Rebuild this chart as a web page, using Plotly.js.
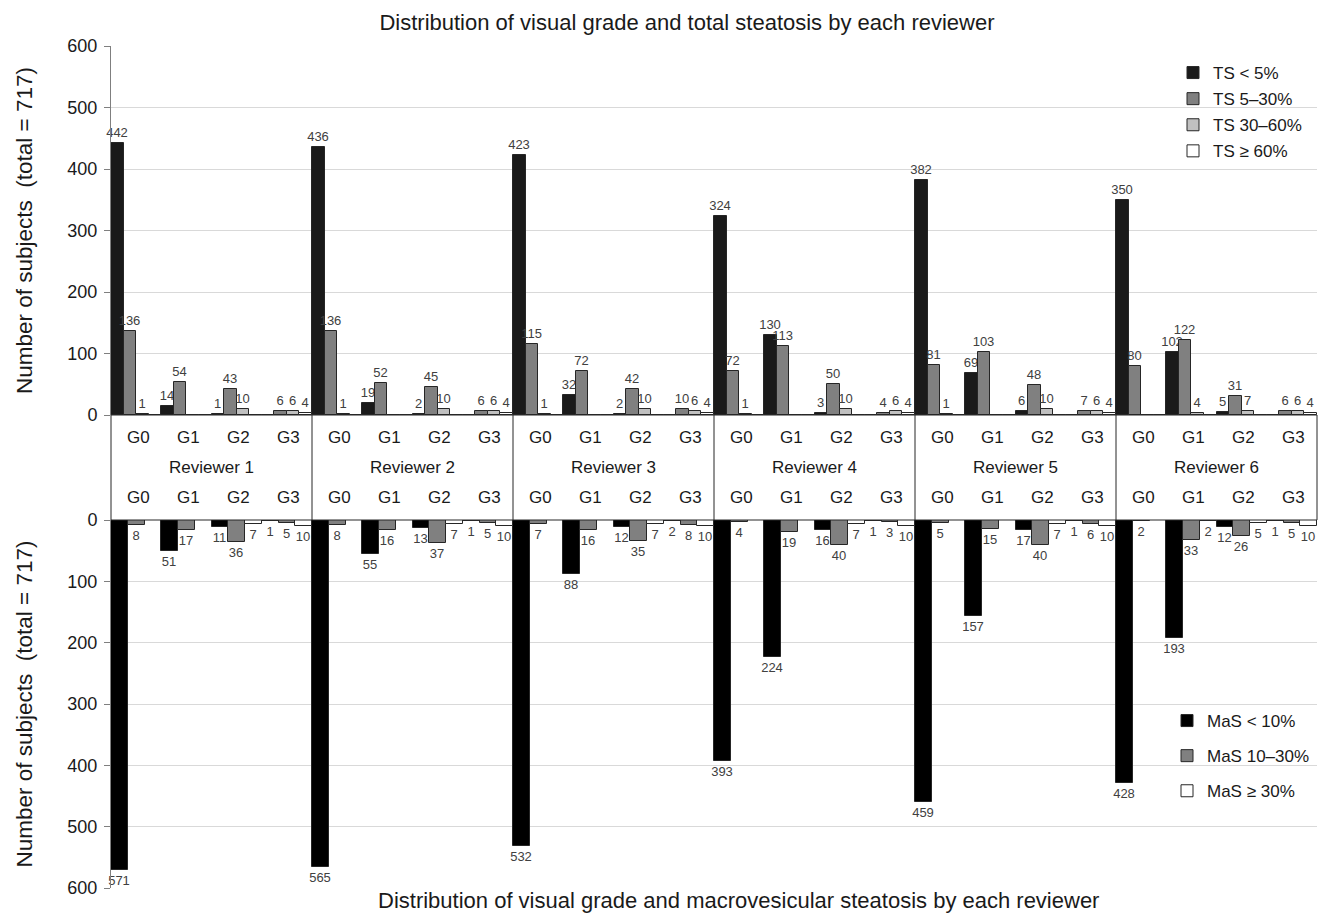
<!DOCTYPE html>
<html>
<head>
<meta charset="utf-8">
<script src="https://cdn.plot.ly/plotly-3.0.1.min.js"></script>
<style>html,body{margin:0;padding:0;background:#fff;}#chart{width:1322px;height:913px;}</style>
</head>
<body>
<div id="chart"></div>
<script>
// ---- data ----
const reviewers = ['Reviewer 1', 'Reviewer 2', 'Reviewer 3', 'Reviewer 4', 'Reviewer 5', 'Reviewer 6'];
const grades = ['G0', 'G1', 'G2', 'G3'];

// Total steatosis (TS) counts, per reviewer G0..G3
const tsNames = ['TS < 5%', 'TS 5–30%', 'TS 30–60%', 'TS ≥ 60%'];
const tsLt5 = [442, 14, 1, 0,  436, 19, 2, 0,  423, 32, 2, 0,  324, 130, 3, 0,  382, 69, 6, 0,  350, 102, 5, 0];
const ts5to30 = [136, 54, 43, 6,  136, 52, 45, 6,  115, 72, 42, 10,  72, 113, 50, 4,  81, 103, 48, 7,  80, 122, 31, 6];
const ts30to60 = [1, 0, 10, 6,  1, 0, 10, 6,  1, 0, 10, 6,  1, 0, 10, 6,  1, 0, 10, 6,  0, 4, 7, 6];
const tsGe60 = [0, 0, 0, 4,  0, 0, 0, 4,  0, 0, 0, 4,  0, 0, 0, 4,  0, 0, 0, 4,  0, 0, 0, 4];

// Macrovesicular steatosis (MaS) counts, per reviewer G0..G3
const masNames = ['MaS < 10%', 'MaS 10–30%', 'MaS ≥ 30%'];
const masLt10 = [571, 51, 11, 1,  565, 55, 13, 1,  532, 88, 12, 2,  393, 224, 16, 1,  459, 157, 17, 1,  428, 193, 12, 1];
const mas10to30 = [8, 17, 36, 5,  8, 16, 37, 5,  7, 16, 35, 8,  4, 19, 40, 3,  5, 15, 40, 6,  2, 33, 26, 5];
const masGe30 = [0, 0, 7, 10,  0, 0, 7, 10,  0, 0, 7, 10,  0, 0, 7, 10,  0, 0, 7, 10,  0, 2, 5, 10];

const topTitle = 'Distribution of visual grade and total steatosis by each reviewer';
const bottomTitle = 'Distribution of visual grade and macrovesicular steatosis by each reviewer';
const yTitle = 'Number of subjects \u00a0(total = 717)';

// ---- build ----
const cats = [];
reviewers.forEach(r => grades.forEach(g => cats.push(r + ' ' + g)));

const FONT = 'Liberation Sans, Arial, Helvetica, sans-serif';
const lineCol = '#262626';
const lbl = v => v.map(x => x === 0 ? '' : String(x));

function barTrace(vals, name, color, xa, ya, leg, grp) {
  return {
    type: 'bar', x: cats, y: vals, name: name, xaxis: xa, yaxis: ya,
    legend: leg, legendgroup: grp,
    marker: {color: color, line: {color: lineCol, width: 1}},
    text: lbl(vals), textposition: 'outside', cliponaxis: false,
    constraintext: 'none',
    textfont: {family: FONT, size: 13, color: '#404040'},
    hoverinfo: 'x+y+name'
  };
}

const tsCols = ['#1a1a1a', '#808080', '#c0c0c0', '#ffffff'];
const masCols = ['#000000', '#808080', '#ffffff'];
const tsVals = [tsLt5, ts5to30, ts30to60, tsGe60];
const masVals = [masLt10, mas10to30, masGe30];

const data = [];
tsVals.forEach((v, i) => data.push(barTrace(v, tsNames[i], tsCols[i], 'x', 'y', 'legend', 't' + i)));
masVals.forEach((v, i) => data.push(barTrace(v, masNames[i], masCols[i], 'x2', 'y2', 'legend2', 'm' + i)));

const H = 842, PW = 1206; // plot size in px
const py = px => (888 - px) / H; // page y -> paper y
const pxr = px => (px - 111) / PW; // page x -> paper x
const midTop = py(415), midBot = py(520);

const shapes = [{type: 'rect', xref: 'paper', yref: 'paper', x0: 0, x1: 1, y0: midBot, y1: midTop,
                 line: {color: lineCol, width: 1}, fillcolor: 'rgba(0,0,0,0)', layer: 'above'}];
for (let r = 1; r < reviewers.length; r++) {
  shapes.push({type: 'line', xref: 'x', yref: 'paper', x0: r * grades.length - 0.5, x1: r * grades.length - 0.5,
               y0: midBot, y1: midTop, line: {color: lineCol, width: 1}});
}

const annotations = [];
cats.forEach((c, i) => {
  const g = grades[i % grades.length];
  [437, 497].forEach(yp => annotations.push({xref: 'x', yref: 'paper', x: c, y: py(yp), text: g,
    showarrow: false, yanchor: 'middle', xshift: 2, font: {family: FONT, size: 17, color: '#1a1a1a'}}));
});
reviewers.forEach((r, k) => annotations.push({xref: 'x', yref: 'paper', x: k * grades.length + 1.5, y: py(467),
  text: r, showarrow: false, yanchor: 'middle', font: {family: FONT, size: 17, color: '#1a1a1a'}}));
annotations.push({xref: 'paper', yref: 'paper', x: pxr(738), y: py(900), text: bottomTitle,
  showarrow: false, yanchor: 'middle', font: {family: FONT, size: 22, color: '#1a1a1a'}});

const yCommon = {
  tickmode: 'linear', tick0: 0, dtick: 100,
  showline: true, linecolor: '#7f7f7f', linewidth: 1,
  ticks: 'outside', ticklen: 6, tickcolor: '#7f7f7f',
  ticklabelstandoff: 3,
  showgrid: true, gridcolor: '#d9d9d9', gridwidth: 1,
  zeroline: false,
  tickfont: {family: FONT, size: 18, color: '#1a1a1a'},
  title: {text: yTitle, font: {family: FONT, size: 22.5, color: '#1a1a1a'}, standoff: 28},
  automargin: false, fixedrange: true
};
const xCommon = {
  type: 'category', categoryorder: 'array', categoryarray: cats, range: [-0.5, cats.length - 0.5],
  showticklabels: false, ticks: '', showgrid: false, zeroline: false, showline: false, fixedrange: true
};

const W = 1322, HT = 913;
const layout = {
  width: W, height: HT,
  margin: {l: 111, r: 5, t: 46, b: 25, autoexpand: false},
  paper_bgcolor: '#ffffff', plot_bgcolor: '#ffffff',
  font: {family: FONT, color: '#1a1a1a'},
  title: {text: topTitle, x: 687 / W, xanchor: 'center', xref: 'container', yref: 'container',
          y: 1 - 22 / HT, yanchor: 'middle', font: {family: FONT, size: 22, color: '#1a1a1a'}},
  barmode: 'group', bargap: 0, bargroupgap: 0,
  xaxis: Object.assign({}, xCommon, {anchor: 'y'}),
  xaxis2: Object.assign({}, xCommon, {anchor: 'y2'}),
  yaxis: Object.assign({}, yCommon, {domain: [midTop, 1], range: [0, 600]}),
  yaxis2: Object.assign({}, yCommon, {domain: [0, midBot], range: [600, 0]}),
  legend: {x: pxr(1173), xanchor: 'left', y: py(55), yanchor: 'top',
           bgcolor: 'rgba(0,0,0,0)', font: {family: FONT, size: 17, color: '#1a1a1a'}, tracegroupgap: 1, itemwidth: 30},
  legend2: {x: pxr(1167), xanchor: 'left', y: py(703), yanchor: 'top',
            bgcolor: 'rgba(0,0,0,0)', font: {family: FONT, size: 17, color: '#1a1a1a'}, tracegroupgap: 10, itemwidth: 30},
  shapes: shapes,
  annotations: annotations,
  showlegend: true
};

Plotly.newPlot('chart', data, layout, {displayModeBar: false, staticPlot: false});
</script>
</body>
</html>
